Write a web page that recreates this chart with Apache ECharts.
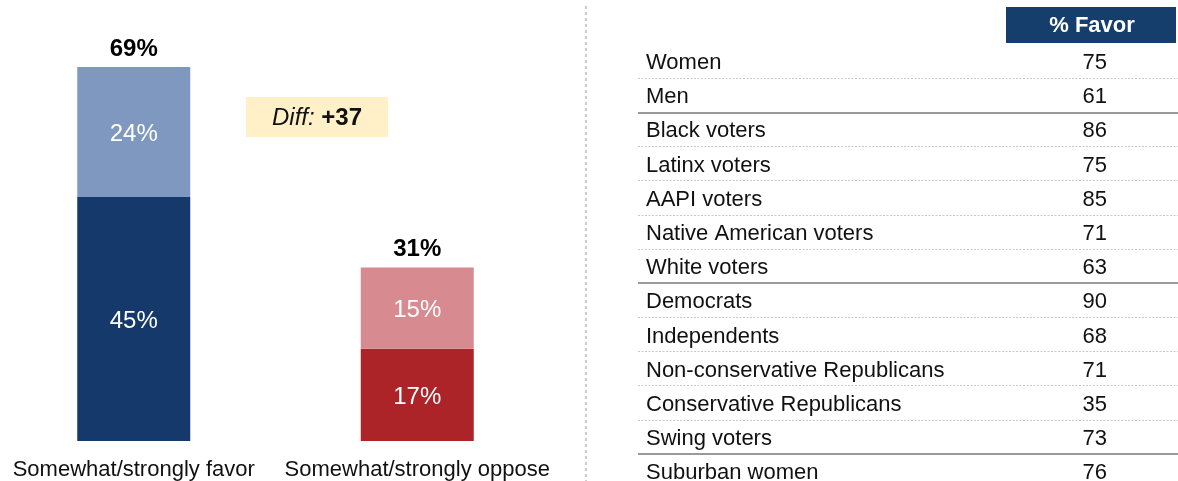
<!DOCTYPE html>
<html>
<head>
<meta charset="utf-8">
<script src="https://cdn.jsdelivr.net/npm/echarts@6/dist/echarts.min.js"></script>
<style>
html,body{margin:0;padding:0;background:#fff;}
#chart{width:1178px;height:481px;}
</style>
</head>
<body>
<div id="chart"></div>
<script>
// ---- Data ----
const categories = ['Somewhat/strongly favor', 'Somewhat/strongly oppose'];
const strongValues = [45, 17];
const somewhatValues = [24, 15];
const totals = [69, 31];
const diffValue = 37;

const groups = ['Women', 'Men', 'Black voters', 'Latinx voters', 'AAPI voters',
  'Native American voters', 'White voters', 'Democrats', 'Independents',
  'Non-conservative Republicans', 'Conservative Republicans', 'Swing voters', 'Suburban women'];
const favorPct = [75, 61, 86, 75, 85, 71, 63, 90, 68, 71, 35, 73, 76];
const tableHeader = '% Favor';
const sectionBreaks = [2, 7, 12];

// ---- Styles ----
const FONT = '"Liberation Sans", Arial, Helvetica, sans-serif';
const strongColors = ['#14396a', '#ac2328'];
const somewhatColors = ['#7f98c0', '#d88a91'];

const chart = echarts.init(document.getElementById('chart'), null, {renderer: 'canvas'});

const NAME_COL = 0, VALUE_COL = 84.6;

const option = {
  animation: false,
  backgroundColor: '#fff',
  textStyle: {fontFamily: FONT},
  grid: [
    {left: -8, width: 567, top: 7.4, bottom: 40, containLabel: false, outerBoundsMode: 'none'},
    {left: 638, right: 0, top: 44, height: 444.2, containLabel: false, outerBoundsMode: 'none'}
  ],
  xAxis: [
    {gridIndex: 0, type: 'category', data: categories,
      axisLine: {show: false}, axisTick: {show: false},
      axisLabel: {fontSize: 22, color: '#111', margin: 18, fontFamily: FONT, interval: 0}},
    {gridIndex: 1, type: 'value', min: 0, max: 100, show: false}
  ],
  yAxis: [
    {gridIndex: 0, type: 'value', min: 0, max: 80, show: false},
    {gridIndex: 1, type: 'value', min: 0, max: 13, interval: 1, inverse: true,
      axisLine: {show: false}, axisTick: {show: false}, axisLabel: {show: false},
      splitLine: {show: true, lineStyle: {
        color: ['rgba(0,0,0,0)', '#c8c8c8', '#c8c8c8', '#c8c8c8', '#c8c8c8', '#c8c8c8', '#c8c8c8',
                '#c8c8c8', '#c8c8c8', '#c8c8c8', '#c8c8c8', '#c8c8c8', '#c8c8c8', 'rgba(0,0,0,0)'],
        type: [2, 1.5], width: 1}}}
  ],
  series: [
    {type: 'bar', name: 'Strongly', stack: 's', xAxisIndex: 0, yAxisIndex: 0, barWidth: 113,
      data: strongValues.map((v, i) => ({value: v, itemStyle: {color: strongColors[i]}})),
      label: {show: true, position: 'inside', color: '#fff', fontSize: 24, fontFamily: FONT,
        offset: [0, 2], formatter: p => p.value + '%'}},
    {type: 'bar', name: 'Somewhat', stack: 's', xAxisIndex: 0, yAxisIndex: 0, barWidth: 113,
      data: somewhatValues.map((v, i) => ({value: v, itemStyle: {color: somewhatColors[i]}})),
      label: {show: true, position: 'inside', color: '#fff', fontSize: 24, fontFamily: FONT,
        offset: [0, 2], formatter: p => p.value + '%'}},
    {type: 'scatter', name: 'Total', xAxisIndex: 0, yAxisIndex: 0, symbolSize: 0,
      itemStyle: {opacity: 1},
      data: categories.map((c, i) => [c, strongValues[i] + somewhatValues[i]]),
      label: {show: true, position: 'top', distance: 6, color: '#000', fontWeight: 'bold',
        fontSize: 24, fontFamily: FONT, formatter: p => totals[p.dataIndex] + '%'}},
    {type: 'scatter', name: 'Groups', xAxisIndex: 1, yAxisIndex: 1, symbolSize: 0, silent: true,
      itemStyle: {opacity: 1},
      data: groups.map((g, i) => [NAME_COL, i + 0.5]),
      label: {show: true, position: 'right', distance: 8, color: '#111', fontSize: 22,
        offset: [0, 2], fontFamily: FONT, formatter: p => groups[p.dataIndex]},
      markLine: {silent: true, symbol: 'none', label: {show: false},
        lineStyle: {color: '#9a9a9a', type: 'solid', width: 2},
        data: sectionBreaks.map(b => ({yAxis: b}))}},
    {type: 'scatter', name: 'Favor', xAxisIndex: 1, yAxisIndex: 1, symbolSize: 0, silent: true,
      itemStyle: {opacity: 1},
      data: favorPct.map((v, i) => [VALUE_COL, i + 0.5]),
      label: {show: true, position: 'inside', color: '#111', fontSize: 22,
        offset: [0, 2], fontFamily: FONT, formatter: p => String(favorPct[p.dataIndex])}}
  ],
  graphic: [
    {type: 'line', silent: true, shape: {x1: 586, y1: 6, x2: 586, y2: 481},
      style: {stroke: '#9a9a9a', lineWidth: 1, lineDash: [3, 3]}},
    {type: 'rect', silent: true, shape: {x: 246, y: 97, width: 142, height: 40},
      style: {fill: '#fff0c8'}},
    {type: 'text', silent: true, x: 317, y: 118,
      style: {text: '{i|Diff:} {b|+' + diffValue + '}', align: 'center', verticalAlign: 'middle',
        rich: {
          i: {fontStyle: 'italic', fontSize: 24, fontFamily: FONT, fill: '#111'},
          b: {fontWeight: 'bold', fontSize: 24, fontFamily: FONT, fill: '#111'}
        }, fontSize: 24, fontFamily: FONT, fill: '#111'}},
    {type: 'rect', silent: true, shape: {x: 1006, y: 7, width: 170, height: 36},
      style: {fill: '#163e6d'}},
    {type: 'text', silent: true, x: 1092, y: 26,
      style: {text: tableHeader, fill: '#fff', fontWeight: 'bold', fontSize: 22, fontFamily: FONT,
        align: 'center', verticalAlign: 'middle'}}
  ]
};
chart.setOption(option);
</script>
</body>
</html>
